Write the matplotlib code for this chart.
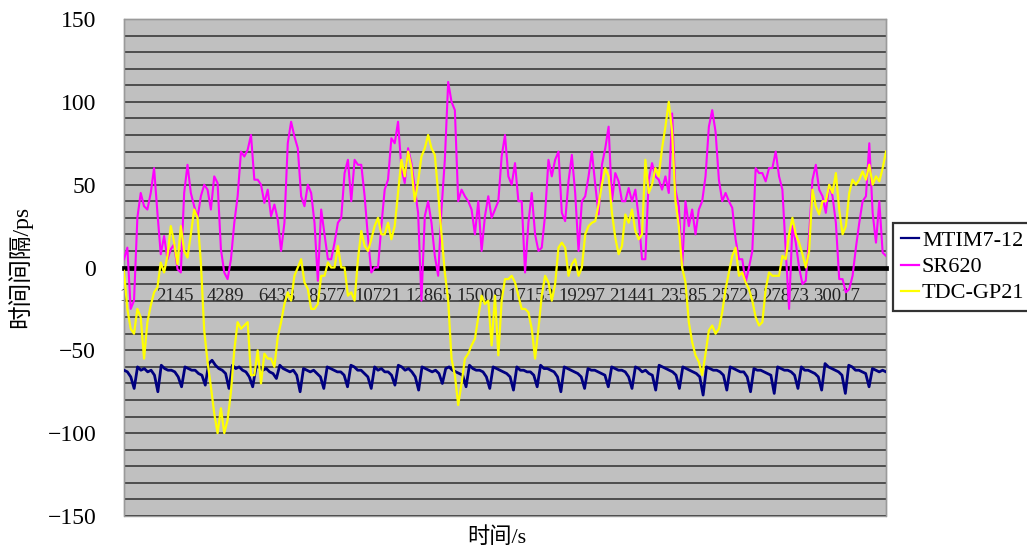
import numpy as np
import matplotlib
matplotlib.use("Agg")
import matplotlib.pyplot as plt
from matplotlib.ticker import MultipleLocator
from matplotlib.patches import Rectangle

plt.rcParams['font.family'] = ['Liberation Serif', 'Noto Sans CJK SC', 'DejaVu Sans']

n_samples = 32120
xtick_labels = ['1', '2145', '4289', '6433', '8577', '10721', '12865', '15009',
                '17153', '19297', '21441', '23585', '25729', '27873', '30017']
xtick_values = [int(s) for s in xtick_labels]

series_names = ['MTIM7-12', 'SR620', 'TDC-GP21']

mtim = [
    -62, -63, -66, -73,
    -60, -62, -61, -63, -62, -65, -75,
    -59, -61, -62, -62, -63, -66, -72,
    -60, -61, -62, -62, -64, -65, -71,
    -58, -56, -59, -61, -62, -64, -73,
    -59, -61, -60, -62, -63, -66, -72,
    -60, -60, -62, -61, -63, -64, -67,
    -59, -61, -62, -63, -62, -65, -75,
    -61, -62, -63, -62, -64, -66, -73,
    -60, -61, -62, -63, -63, -65, -72,
    -59, -60, -62, -62, -64, -66, -73,
    -60, -62, -61, -63, -63, -65, -71,
    -59, -60, -62, -61, -63, -66, -74,
    -60, -61, -62, -63, -62, -64, -70,
    -61, -60, -62, -63, -64, -65, -72,
    -59, -61, -62, -62, -63, -66, -73,
    -60, -61, -62, -63, -64, -66, -74,
    -60, -62, -62, -63, -63, -65, -72,
    -59, -61, -61, -62, -63, -66, -75,
    -60, -61, -62, -63, -64, -66, -73,
    -61, -62, -62, -63, -64, -65, -72,
    -60, -61, -62, -62, -63, -66, -73,
    -60, -61, -63, -62, -64, -65, -74,
    -59, -60, -61, -62, -63, -65, -73,
    -60, -61, -62, -63, -64, -66, -77,
    -60, -61, -62, -62, -63, -65, -74,
    -60, -61, -62, -63, -63, -66, -75,
    -61, -62, -62, -63, -64, -65, -76,
    -60, -61, -62, -62, -63, -65, -73,
    -60, -62, -62, -63, -64, -66, -74,
    -58, -60, -61, -62, -63, -65, -76,
    -59, -60, -62, -62, -63, -64, -72,
    -61, -62, -63, -62, -63,
]

sr620 = [
    5, 12, -25, -20, 30, 45, 37, 35, 45, 60, 33, 8, 19, 5, 11, 14, -1, -3, 45, 62,
    45, 37, 30, 43, 50, 47, 35, 55, 51, 11, -3, -7, 5, 27, 43, 70, 67, 71, 80, 53,
    53, 50, 39, 47, 31, 38, 29, 10, 27, 75, 88, 79, 72, 43, 37, 50, 45, 27, -8,
    35, 20, 5, 5, 15, 27, 30, 57, 65, 40, 65, 62, 62, 43, 18, -3, 0, 0, 25, 47,
    53, 78, 75, 88, 60, 51, 72, 63, 48, 33, -20, 31, 40, 27, 7, -5, 35, 65, 112, 100,
    95, 40, 47, 43, 40, 35, 20, 40, 10, 31, 43, 30, 35, 40, 67, 80, 55,
    50, 63, 40, 40, -3, 27, 45, 20, 10, 12, 32, 65, 55, 65, 70, 33, 28, 52, 68, 45,
    10, 40, 43, 55, 70, 50, 32, 62, 72, 85, 40, 57, 52, 40, 40, 48, 40, 47, 30, 5,
    5, 53, 63, 55, 53, 47, 55, 45, 93, 47, 37, 0, 40, 25, 35, 20, 35,
    40, 55, 85, 95, 82, 53, 40, 45, 40, 36, 17, 5, 5, -9, 0, 10, 60, 57, 57, 52,
    60, 60, 70, 55, 47, 10, -25, 25, 15, 0, -10, -8, 20, 53, 62, 47, 43, 33, 50, 43,
    27, -7, -7, -15, -13, -5, 12, 27, 40, 43, 75, 33, 15, 40, 9, 7,
]

tdc = [
    -2, -25, -37, -40, -25, -30, -55, -33, -23, -15, -12, 3, -3, 7, 25, 15, 2, 25, 10, 6,
    20, 35, 30, 3, -38, -57, -72, -88, -100, -85, -100, -92, -75, -50, -33, -37, -35, -33, -65, -65,
    -50, -70, -52, -55, -55, -60, -42, -33, -22, -15, -20, -5, 0, 5, -9, -13, -25, -25, -22,
    -5, -5, 3, 0, 0, 13, 0, 0, -17, -15, -20, 5, 22, 13, 10, 17, 25, 30, 20, 20,
    27, 17, 25, 45, 65, 55, 70, 60, 40, 52, 67, 72, 80, 72, 68, 45, 20, -3, -20, -55,
    -65, -83, -70, -55, -52, -47, -43, -30, -17, -22, -20, -47, -17, -53, -20, -7, -7,
    -5, -9, -17, -25, -25, -27, -37, -55, -37, -17, -5, -9, -20, -10, 12, 15, 12, -5, 2, 5,
    -5, 0, 20, 25, 27, 28, 38, 50, 60, 55, 33, 18, 8, 13, 32, 27, 35, 22, 17, 20,
    65, 45, 50, 60, 55, 72, 85, 100, 82, 40, 25, 0, -9, -33, -45, -53, -57,
    -65, -52, -38, -35, -40, -37, -27, -13, -3, 7, 12, -5, -3, -9, -13, -20, -30, -35, -33, -13,
    -3, -5, -5, -5, 7, 5, 20, 30, 20, 15, 8, 0, 10, 47, 37, 32, 40, 40, 50, 45,
    57, 35, 20, 25, 45, 53, 50, 53, 58, 53, 62, 50, 55, 52, 60, 70,
]

colors = ['#000080', '#FF00FF', '#FFFF00']

fig = plt.figure(figsize=(10.27, 5.52), dpi=100)
fig.patch.set_facecolor('white')
ax = fig.add_axes([124 / 1027, 1 - 516 / 552, 762 / 1027, 497 / 552])
ax.set_facecolor('#C0C0C0')

ax.set_xlim(1, n_samples)
ax.set_ylim(-150, 150)

ax.yaxis.set_major_locator(MultipleLocator(50))
ax.yaxis.set_minor_locator(MultipleLocator(10))
ax.grid(which='both', axis='y', color='#3a3a3a', linewidth=1.2, zorder=1)
ax.set_axisbelow(True)

for vals, name, col, lw in zip([mtim, sr620, tdc], series_names, colors, [2.0, 1.5, 1.6]):
    xs = np.linspace(1, n_samples, len(vals))
    ax.plot(xs, vals, color=col, linewidth=lw, label=name, zorder=3)

# x axis drawn at y = 0
ax.spines['bottom'].set_position(('data', 0))
ax.spines['bottom'].set_color('black')
ax.spines['bottom'].set_linewidth(3.4)
ax.spines['bottom'].set_zorder(2.5)
for s in ['left', 'right', 'top']:
    ax.spines[s].set_color('#9a9a9a')
    ax.spines[s].set_linewidth(1.0)
ax.add_patch(Rectangle((0, 0), 1, 1, transform=ax.transAxes, fill=False,
                       edgecolor='#9a9a9a', linewidth=1.0, zorder=0.5, clip_on=False))

ax.set_xticks(xtick_values)
ax.set_xticklabels(xtick_labels, fontsize=13.5, color='#222222')
ax.tick_params(axis='x', length=0, pad=15)
ax.tick_params(axis='y', which='both', length=0, pad=20, labelsize=17)

fig.text(497 / 1027, 1 - 538 / 552, '时间/s', ha='center', va='center', fontsize=16)
fig.text(20 / 1027, 1 - 267 / 552, '时间间隔/ps', ha='center', va='center',
         rotation=90, fontsize=17)

leg = ax.legend(loc='center left', bbox_to_anchor=(893 / 1027, 1 - 267 / 552),
                bbox_transform=fig.transFigure, fontsize=16, frameon=True,
                fancybox=False, edgecolor='black', handlelength=0.8,
                handletextpad=0.15, labelspacing=0.25, borderpad=0.35,
                borderaxespad=0)
leg.get_frame().set_linewidth(1.6)
for h in leg.get_lines():
    h.set_linewidth(1.6)

fig.savefig('out.png', dpi=100, facecolor='white')
